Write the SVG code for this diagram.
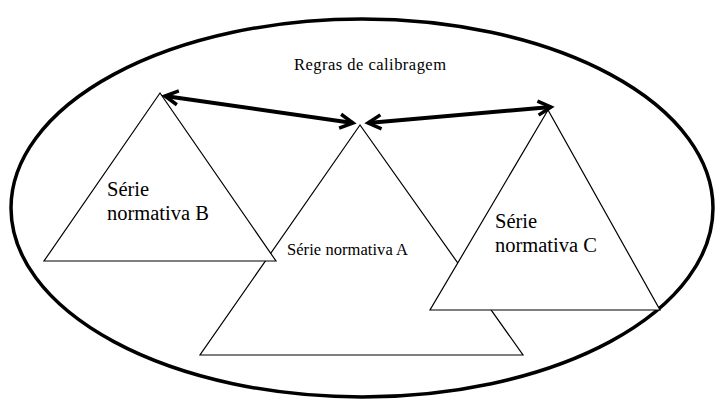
<svg xmlns="http://www.w3.org/2000/svg" width="716" height="399" viewBox="0 0 716 399">
<style>
.tri{fill:#fff;stroke:#000;stroke-width:1.2}
.t{font-family:"Liberation Serif",serif;fill:#000}
.arr{stroke:#000;stroke-width:4;fill:none;marker-start:url(#ah);marker-end:url(#ah)}
</style>
<defs>
<marker id="ah" markerUnits="userSpaceOnUse" viewBox="-16 -10 20 20" refX="0" refY="0" markerWidth="20" markerHeight="20" orient="auto-start-reverse">
<path d="M-13 -7 L0 0 L-13 7" fill="none" stroke="#000" stroke-width="3.5" stroke-linejoin="miter"/>
</marker>
</defs>
<rect width="716" height="399" fill="#fff"/>
<g id="boundary">
<ellipse cx="362" cy="208" rx="351" ry="189" fill="none" stroke="#000" stroke-width="3.5"/>
<text class="t" x="370" y="70" font-size="16.5" text-anchor="middle" textLength="152">Regras de calibragem</text>
</g>
<g id="serieA">
<polygon class="tri" points="360,125 200,355 523,355"/>
<text class="t" x="287" y="255" font-size="16.5" textLength="121">Série normativa A</text>
</g>
<g id="serieB">
<polygon class="tri" points="160,93 44,261 276,261"/>
<text class="t" font-size="20.5"><tspan x="107" y="196">Série</tspan><tspan x="107" y="220">normativa B</tspan></text>
</g>
<g id="serieC">
<polygon class="tri" points="548,110 430,310 660,310"/>
<text class="t" font-size="20.5"><tspan x="495" y="228">Série</tspan><tspan x="495" y="252">normativa C</tspan></text>
</g>
<g id="connectors">
<line class="arr" x1="165" y1="96" x2="353" y2="123"/>
<line class="arr" x1="368" y1="123" x2="551" y2="107"/>
</g>
</svg>
